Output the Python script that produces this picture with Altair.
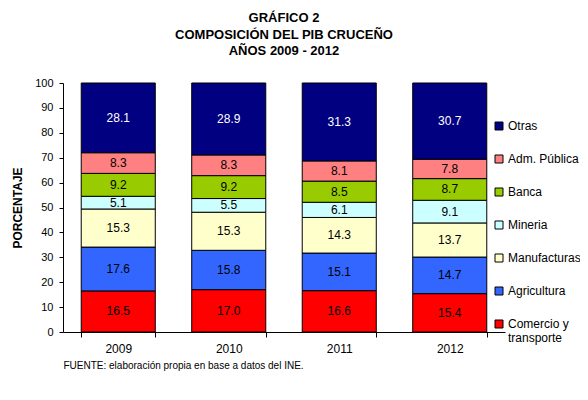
import altair as alt
import pandas as pd

years = ["2009", "2010", "2011", "2012"]
sectors = ["Comercio y transporte", "Agricultura", "Manufacturas", "Mineria",
           "Banca", "Adm. Pública", "Otras"]
sector_colors = ["#FF0000", "#3366FF", "#FFFFCC", "#CCFFFF", "#99CC00", "#FF8080", "#000080"]

comercio = [16.5, 17.0, 16.6, 15.4]
agricultura = [17.6, 15.8, 15.1, 14.7]
manufacturas = [15.3, 15.3, 14.3, 13.7]
mineria = [5.1, 5.5, 6.1, 9.1]
banca = [9.2, 9.2, 8.5, 8.7]
adm_publica = [8.3, 8.3, 8.1, 7.8]
otras = [28.1, 28.9, 31.3, 30.7]

y_ticks = list(range(0, 101, 10))

series = [comercio, agricultura, manufacturas, mineria, banca, adm_publica, otras]
rows = []
for i, (name, vals) in enumerate(zip(sectors, series)):
    for y, v in zip(years, vals):
        rows.append({"year": y, "sector": name, "value": v, "order": i})
df = pd.DataFrame(rows)

legend_order = sectors[::-1]
legend_colors = sector_colors[::-1]

FONT = "Liberation Sans"

base = alt.Chart(df).transform_stack(
    stack="value", groupby=["year"], as_=["v0", "v1"],
    sort=[alt.SortField("order", order="ascending")]
).transform_calculate(mid="(datum.v0 + datum.v1) / 2")

x_axis = alt.Axis(
    title="FUENTE: elaboración propia en base a datos del INE.",
    titleAnchor="start", titleFontWeight="normal", titleFontSize=10,
    titlePadding=6, titleColor="black", titleFont=FONT,
    labelAngle=0, labelFontSize=12, labelColor="black", labelPadding=6,
    tickBand="extent", tickSize=5, tickColor="black",
    domainColor="black", grid=False,
)
x_scale = alt.Scale(paddingInner=0.33, paddingOuter=0.165)

y_axis = alt.Axis(
    values=y_ticks, tickCount=11, title="PORCENTAJE", titleFontSize=12,
    titleFontWeight="bold", titleColor="black", titlePadding=10,
    labelFontSize=11, labelColor="black", labelPadding=6,
    labelOverlap=False, labelFlush=False,
    tickSize=4, tickColor="black", domainColor="black", grid=False,
)
y_scale = alt.Scale(domain=[0, 100], clamp=True, nice=False)

bars = base.mark_bar(stroke="black", strokeWidth=1).encode(
    x=alt.X("year:N", scale=x_scale, axis=x_axis),
    y=alt.Y("v0:Q", scale=y_scale, axis=y_axis),
    y2="v1:Q",
    color=alt.Color(
        "sector:N",
        scale=alt.Scale(domain=legend_order, range=legend_colors),
        legend=alt.Legend(
            title=None, orient="none", legendX=430, legendY=37,
            symbolType="square", symbolSize=64, symbolStrokeColor="black",
            symbolStrokeWidth=1, symbolOpacity=1,
            labelFontSize=12, labelColor="black", labelOffset=3, labelLimit=200,
            rowPadding=21,
            labelExpr="datum.label == 'Comercio y transporte' ? ['Comercio y', 'transporte'] : datum.label",
        ),
    ),
)

labels = base.mark_text(fontSize=12, font=FONT).encode(
    x=alt.X("year:N", scale=x_scale, axis=x_axis),
    y=alt.Y("mid:Q", scale=y_scale, axis=y_axis),
    text=alt.Text("value:Q", format=".1f"),
    color=alt.condition("datum.sector == 'Otras'", alt.value("white"), alt.value("black")),
)

chart = alt.layer(bars, labels).properties(
    width=442,
    height=249,
    autosize=alt.AutoSizeParams(type="none"),
    padding={"left": 55, "top": 75, "right": 75, "bottom": 60},
    title=alt.TitleParams(
        text=["GRÁFICO 2", "COMPOSICIÓN DEL PIB CRUCEÑO", "AÑOS 2009 - 2012"],
        fontSize=13, fontWeight="bold", font=FONT, lineHeight=16.5,
        anchor="middle", offset=19, color="black",
    ),
).configure(font=FONT).configure_view(stroke=None)

chart.save("out.html", embed_options={"renderer": "svg", "actions": False})
